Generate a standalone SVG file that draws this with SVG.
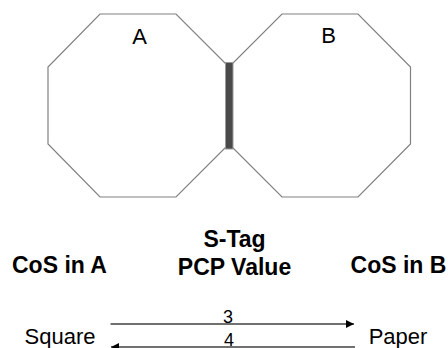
<svg xmlns="http://www.w3.org/2000/svg" width="448" height="348" viewBox="0 0 448 348">
<defs>
<style>
.oct{fill:#fff;stroke:#808080;stroke-width:1.2}
.lbl{font-family:"Liberation Sans",Arial,sans-serif;font-size:22px;fill:#000;text-anchor:middle}
.hd{font-family:"Liberation Sans",Arial,sans-serif;font-size:23px;font-weight:bold;fill:#000;text-anchor:middle}
.num{font-family:"Liberation Sans",Arial,sans-serif;font-size:18px;fill:#000;text-anchor:middle}
.arr{stroke:#404040;stroke-width:1.6;fill:none}
</style>
<marker id="ah" viewBox="0 0 10 10" refX="10" refY="5" markerWidth="5" markerHeight="5" orient="auto" markerUnits="strokeWidth">
<path d="M0,0 L10,5 L0,10 z" fill="#000"/>
</marker>
</defs>
<rect width="448" height="348" fill="#fff"/>
<g id="nodeA">
<polygon class="oct" points="100,14 176,14 228,66 228,145 176,197 100,197 48,144 48,67"/>
<text class="lbl" x="139.5" y="44">A</text>
</g>
<g id="nodeB">
<polygon class="oct" points="282,14 358,14 410.5,67 410.5,144 358,197 282,197 230,145 230,66"/>
<text class="lbl" x="328.5" y="43">B</text>
</g>
<g id="link">
<rect x="225.5" y="62.5" width="7.5" height="86.5" fill="#4a4a4a" stroke="#9a9a9a" stroke-width="1"/>
</g>
<g id="headers">
<text class="hd" x="59.5" y="273">CoS in A</text>
<text class="hd" x="234.5" y="247">S-Tag</text>
<text class="hd" x="234.5" y="275">PCP Value</text>
<text class="hd" x="398.5" y="273">CoS in B</text>
</g>
<g id="square">
<text class="lbl" x="60" y="344">Square</text>
</g>
<g id="paper">
<text class="lbl" x="398" y="344">Paper</text>
</g>
<g id="connectors">
<line class="arr" x1="110.5" y1="324" x2="354" y2="324" marker-end="url(#ah)"/>
<text class="num" x="228" y="322.5">3</text>
<line class="arr" x1="355" y1="347" x2="111" y2="347" marker-end="url(#ah)"/>
<text class="num" x="229" y="345.5">4</text>
</g>
</svg>
